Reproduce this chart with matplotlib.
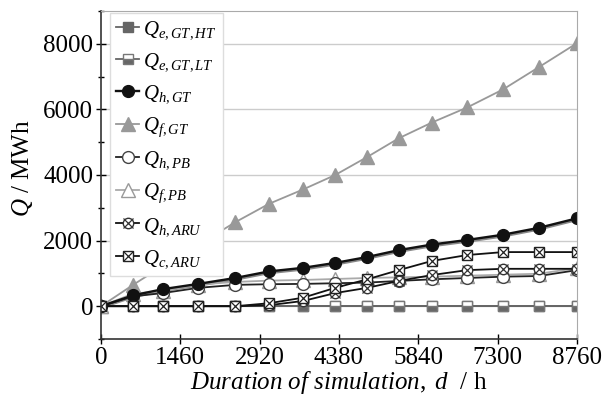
import numpy as np
import matplotlib
matplotlib.use('Agg')
import matplotlib.pyplot as plt
from matplotlib.legend_handler import HandlerTuple

plt.rcParams['font.family'] = ['Liberation Serif', 'DejaVu Serif']
plt.rcParams['mathtext.fontset'] = 'custom'
plt.rcParams['mathtext.rm'] = 'Liberation Serif'
plt.rcParams['mathtext.it'] = 'Liberation Serif:italic'

# Simulation time (h)
hours = [0, 590, 1140, 1790, 2470, 3090, 3720, 4310, 4900, 5480, 6090, 6740, 7400, 8060, 8760]

# Cumulative energy (MWh)
q_e_gt_ht = [0, 0, 0, 0, 0, 0, 0, 0, 0, 0, 0, 0, 0, 0, 0]
q_e_gt_lt = [0, 0, 0, 0, 0, 0, 0, 0, 0, 0, 0, 0, 0, 0, 0]
q_h_gt = [0, 330, 520, 680, 860, 1060, 1170, 1320, 1500, 1710, 1880, 2020, 2180, 2390, 2680]
q_f_gt = [0, 650, 1230, 1870, 2560, 3120, 3560, 4000, 4550, 5120, 5600, 6060, 6610, 7290, 8020]
q_h_pb = [0, 300, 400, 560, 650, 670, 680, 700, 720, 770, 820, 860, 900, 920, 1100]
q_f_pb = [0, 380, 470, 660, 740, 780, 800, 830, 860, 880, 900, 930, 960, 990, 1160]
q_h_aru = [0, 0, 0, 0, 0, 30, 160, 400, 560, 770, 950, 1100, 1140, 1140, 1140]
q_c_aru = [0, 0, 0, 0, 0, 90, 260, 560, 820, 1100, 1380, 1560, 1650, 1650, 1650]

fig = plt.figure(figsize=(6.03, 4.01), dpi=100)
ax = fig.add_axes([101/603, 62/401, 476/603, 328/401])

lw = 1.3
ms = 7.5

h_ht, = ax.plot(hours, q_e_gt_ht, color='#666666', lw=lw, marker='s', ms=ms,
                mfc='#666666', mec='#666666')
h_lt, = ax.plot(hours, q_e_gt_lt, color='#666666', lw=lw, marker='s', ms=ms,
                fillstyle='bottom', mfc='#666666', mfcalt='white', mec='#777777')
h_fgt, = ax.plot(hours, q_f_gt, color='#999999', lw=lw, marker='^', ms=ms + 2,
                 mfc='#999999', mec='#999999')
h_fpb, = ax.plot(hours, q_f_pb, color='#aaaaaa', lw=lw, marker='^', ms=ms + 2,
                 mfc='white', mec='#999999')
h_hpb, = ax.plot(hours, q_h_pb, color='#222222', lw=lw, marker='o', ms=ms + 1,
                 mfc='white', mec='#444444')
h_hgt_shadow, = ax.plot(hours, q_h_gt, color='#888888', lw=lw + 0.6, zorder=1.9)
h_hgt, = ax.plot(hours, q_h_gt, color='#111111', lw=lw + 0.4, marker='o', ms=ms + 1,
                 mfc='#111111', mec='#111111')
h_hgt_shadow.set_transform(h_hgt.get_transform() +
                           matplotlib.transforms.Affine2D().translate(0, -1.5))
h_haru1, = ax.plot(hours, q_h_aru, color='#111111', lw=lw, marker='o', ms=ms,
                   mfc='white', mec='#333333')
h_haru2, = ax.plot(hours, q_h_aru, ls='none', marker='x', ms=ms - 1, mec='#333333', mew=0.9)
h_caru1, = ax.plot(hours, q_c_aru, color='#111111', lw=lw, marker='s', ms=ms,
                   mfc='white', mec='#222222')
h_caru2, = ax.plot(hours, q_c_aru, ls='none', marker='x', ms=ms - 1, mec='#222222', mew=0.9)

ax.set_xlim(0, 8760)
ax.set_ylim(-1000, 9000)
ax.set_xticks(np.arange(0, 8761, 1460))
ax.set_yticks([0, 2000, 4000, 6000, 8000])
ax.set_yticks(np.arange(-1000, 9001, 1000), minor=True)
ax.tick_params(axis='both', direction='inout', length=7, width=1, labelsize=18, pad=2)
ax.tick_params(axis='y', which='minor', direction='inout', length=5, width=1)
ax.yaxis.grid(True, color='#cccccc', lw=1)
ax.set_axisbelow(True)
for side in ['top', 'right']:
    ax.spines[side].set_color('#aaaaaa')
for side in ['left', 'bottom']:
    ax.spines[side].set_color('#333333')
    ax.spines[side].set_linewidth(1.2)

ax.set_xlabel(r'$Duration\ of\ simulation,\ d$  / h', fontsize=18, labelpad=0)
ax.set_ylabel(r'$Q$ / MWh', fontsize=18)
ax.yaxis.set_label_coords(-0.138, 0.52)

handles = [h_ht, h_lt, h_hgt, h_fgt, h_hpb, h_fpb, (h_haru1, h_haru2), (h_caru1, h_caru2)]
labels = [r'$Q_{\mathit{e,GT,HT}}$', r'$Q_{\mathit{e,GT,LT}}$', r'$Q_{\mathit{h,GT}}$',
          r'$Q_{\mathit{f,GT}}$', r'$Q_{\mathit{h,PB}}$', r'$Q_{\mathit{f,PB}}$',
          r'$Q_{\mathit{h,ARU}}$', r'$Q_{\mathit{c,ARU}}$']
leg = ax.legend(handles, labels, loc='upper left', bbox_to_anchor=(0.019, 0.995),
                fontsize=15, handlelength=1.1, handletextpad=0.2, labelspacing=0.5,
                borderpad=0.3, borderaxespad=0, fancybox=False, framealpha=1,
                edgecolor='#dddddd', handler_map={tuple: HandlerTuple(ndivide=1)})
leg.get_frame().set_linewidth(1)

fig.savefig('out.png', dpi=100)
